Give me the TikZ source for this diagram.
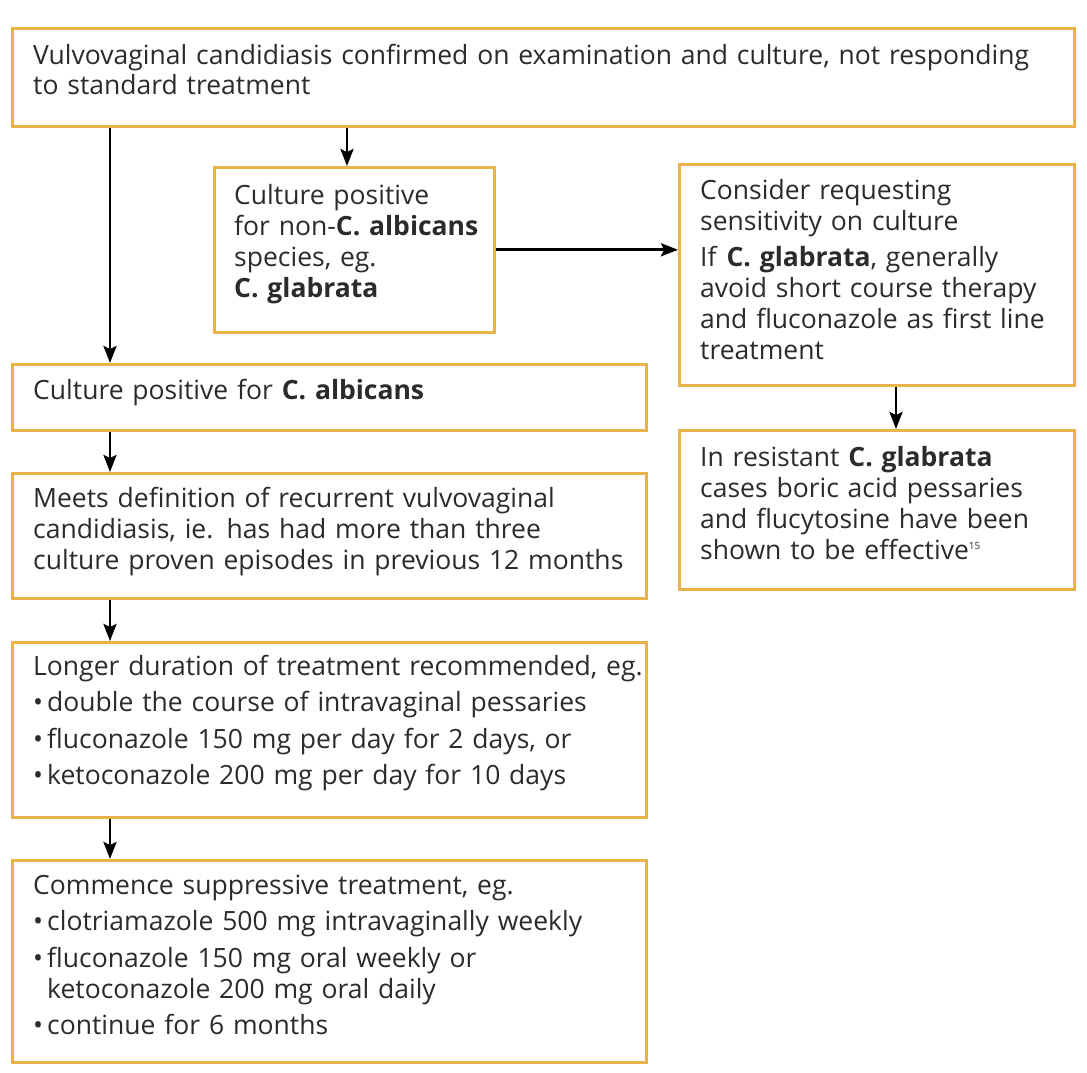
\documentclass[tikz,border=0pt]{standalone}
\usepackage{fontspec}
\setmainfont{Open Sans}
\usetikzlibrary{arrows.meta,calc}
\definecolor{boxgold}{HTML}{E9B24A}
\definecolor{txtgray}{HTML}{2B2B2B}
\newcommand{\bul}{\makebox[14pt][l]{\textbullet}}
\newcommand{\bitem}[1]{\par\vspace{5.5pt}\noindent\bul #1}
\newcommand{\refsup}[1]{{\fontsize{10}{10}\selectfont\raisebox{10pt}{#1}}}
\begin{document}
\begin{tikzpicture}[x=1pt,y=-1pt,
  boxnode/.style={draw=boxgold, line width=2.6pt, fill=white, rectangle, inner sep=0pt, anchor=north west},
  txt/.style={anchor=base west, inner sep=0pt, text=txtgray, align=left, text width=#1,
    font=\fontsize{26.5}{31}\selectfont},
  arr/.style={line width=2.8pt, -{Stealth[length=17pt,width=13pt,inset=3pt]}}]
\useasboundingbox (0,0) rectangle (1087,1073);
% boxes
\node[boxnode, minimum width=1062pt, minimum height=98pt] (top) at (11,27) {};
\node[boxnode, minimum width=280pt, minimum height=165pt] (nonalb) at (213,166) {};
\node[boxnode, minimum width=395pt, minimum height=221pt] (sens) at (678,163) {};
\node[boxnode, minimum width=395pt, minimum height=159pt] (resist) at (678,429) {};
\node[boxnode, minimum width=634pt, minimum height=66pt] (alb) at (11,363) {};
\node[boxnode, minimum width=634pt, minimum height=125pt] (meets) at (11,472) {};
\node[boxnode, minimum width=634pt, minimum height=175pt] (longer) at (11,641) {};
\node[boxnode, minimum width=634pt, minimum height=202pt] (comm) at (11,859) {};
% texts
\node[txt=1040pt] (ttop) at ($(top.north west)+(22,37)$)
  {Vulvovaginal candidiasis confirmed on examination and culture, not responding\\to standard treatment};
\node[txt=270pt] (tnonalb) at ($(nonalb.north west)+(21,38)$)
  {Culture positive\\for non-\textbf{C. albicans}\\species, eg.\\\textbf{C. glabrata}};
\node[txt=380pt] (tsens) at ($(sens.north west)+(22,36)$)
  {Consider requesting\\sensitivity on culture\par\vspace{5pt}If \textbf{C. glabrata}, generally\\avoid short course therapy\\and fluconazole as first line\\treatment};
\node[txt=380pt] (tresist) at ($(resist.north west)+(22,37)$)
  {In resistant \textbf{C. glabrata}\\cases boric acid pessaries\\and flucytosine have been\\shown to be effective\refsup{15}};
\node[txt=620pt] (talb) at ($(alb.north west)+(22,36)$)
  {Culture positive for \textbf{C. albicans}};
\node[txt=620pt] (tmeets) at ($(meets.north west)+(22,35)$)
  {Meets definition of recurrent vulvovaginal\\candidiasis, ie. has had more than three\\culture proven episodes in previous 12 months};
\node[txt=620pt] (tlonger) at ($(longer.north west)+(22,34)$)
  {Longer duration of treatment recommended, eg.%
   \bitem{double the course of intravaginal pessaries}%
   \bitem{fluconazole 150 mg per day for 2 days, or}%
   \bitem{ketoconazole 200 mg per day for 10 days}};
\node[txt=620pt] (tcomm) at ($(comm.north west)+(22,35)$)
  {Commence suppressive treatment, eg.%
   \bitem{clotriamazole 500 mg intravaginally weekly}%
   \bitem{fluconazole 150 mg oral weekly or\\\hspace*{14pt}ketoconazole 200 mg oral daily}%
   \bitem{continue for 6 months}};
% connectors
\draw[arr] ($(top.south west)+(336,0)$) -- ($(nonalb.north west)+(134,0)$);
\draw[arr] ($(top.south west)+(99,0)$) -- ($(alb.north west)+(99,0)$);
\draw[arr] (nonalb.east) -- (nonalb.east -| sens.west);
\draw[arr] ($(sens.south west)+(218,0)$) -- ($(resist.north west)+(218,0)$);
\draw[arr] ($(alb.south west)+(99,0)$) -- ($(meets.north west)+(99,0)$);
\draw[arr] ($(meets.south west)+(99,0)$) -- ($(longer.north west)+(99,0)$);
\draw[arr] ($(longer.south west)+(99,0)$) -- ($(comm.north west)+(99,0)$);
\end{tikzpicture}
\end{document}
